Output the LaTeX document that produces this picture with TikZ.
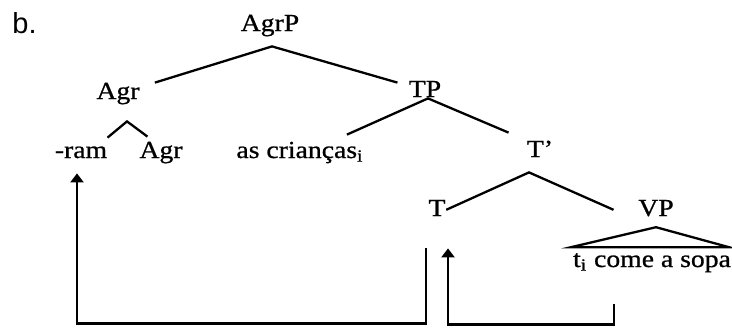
\documentclass[tikz,border=0pt]{standalone}
\usepackage{fontspec}
\setmainfont{Liberation Serif}[FakeStretch=1.13, FakeBold=0.8]
\newfontfamily\tagfont{Liberation Sans}
\usetikzlibrary{arrows.meta}

\begin{document}
\begin{tikzpicture}[
      x=0.5pt, y=-0.5pt,
      cat/.style={inner sep=2pt, text height=8pt, text depth=2.8pt, anchor=base,
                  font=\fontsize{12.25pt}{14pt}\selectfont},
      word/.style={cat},
      branch/.style={line width=1.15pt},
      move/.style={line width=1.15pt, -{Triangle[width=6.5pt,length=4.5pt]}}
    ]
    \useasboundingbox (0,0) rectangle (732,327);
    \node[inner sep=0, anchor=base west, font=\tagfont\fontsize{14.5pt}{16pt}\selectfont] (tag) at (12,33) {b.};

    % categories and words
    \node[cat] (agrp) at (270,31) {AgrP};
    \node[cat] (agr) at (118,99) {Agr};
    \node[cat] (tp) at (425,97) {TP};
    \node[word] (ram) at (81,158) {-ram};
    \node[cat] (agrlow) at (161,158) {Agr};
    \node[word] (kids) at (300,158) {as crianças\textsubscript{i}};
    \node[cat] (tbar) at (540,157) {T’};
    \node[cat] (t) at (437,216) {T};
    \node[cat] (vp) at (656,216) {VP};
    \node[word] (sopa) at (652,267) {t\textsubscript{i} come a sopa};

    % branches
    \draw[branch] ([xshift=5.5pt,yshift=-2pt]agr.north east) -- ([xshift=1pt,yshift=-2.7pt]agrp.south)
      -- ([xshift=-3.5pt,yshift=-3pt]tp.north west);
    \draw[branch] ([xshift=-2pt]ram.north east) -- ([xshift=4.5pt,yshift=-6.2pt]agr.south)
      -- ([xshift=6.2pt,yshift=0.5pt]agrlow.north west);
    \draw[branch] ([xshift=-10.5pt,yshift=1.5pt]kids.north east) -- ([xshift=1.5pt,yshift=4.3pt]tp.south)
      -- ([xshift=-7pt,yshift=2pt]tbar.north west);
    \draw[branch] ([xshift=-1.8pt,yshift=0.5pt]t.east) -- ([xshift=-5.5pt,yshift=-2.7pt]tbar.south)
      -- ([xshift=-10.2pt,yshift=0.5pt]vp.west);
    \draw[branch] ([yshift=-0.6pt]vp.south) -- ([xshift=-42.5pt,yshift=-10.6pt]vp.south)
      -- ([xshift=36.5pt,yshift=-10.6pt]vp.south) -- cycle;

    % head movement
    \draw[move] ([xshift=-5.5pt,yshift=-11.2pt]t.south) -- ++(0,75)
      -| ([xshift=-2pt,yshift=-2.7pt]ram.south);
    \draw[move] ([xshift=-19pt,yshift=-13.7pt]sopa.south) -- ++(0,20)
      -| ([xshift=5.5pt,yshift=-11.2pt]t.south);
\end{tikzpicture}
\end{document}
